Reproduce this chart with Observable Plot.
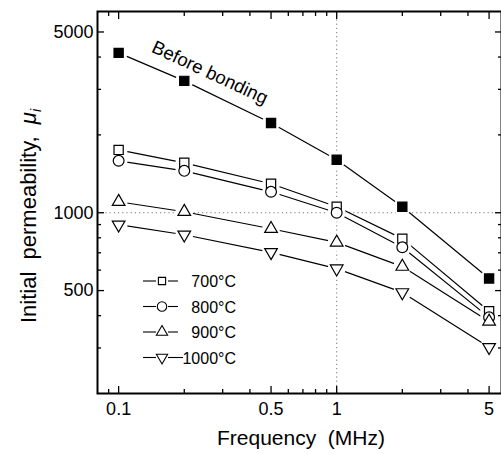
<!DOCTYPE html>
<html><head><meta charset="utf-8">
<script src="https://cdn.jsdelivr.net/npm/d3@7"></script>
<script src="https://cdn.jsdelivr.net/npm/@observablehq/plot@0.6"></script>
<style>body{margin:0;background:#fff;} #chart svg{overflow:visible}</style>
</head><body><div id="chart"></div>
<script>
// ---- data ----
const frequency = [0.1, 0.2, 0.5, 1, 2, 5];            // MHz
const beforeBonding = [4150, 3235, 2223, 1603, 1055, 557];
const t700 = [1750, 1560, 1294, 1055, 794, 416];
const t800 = [1588, 1452, 1205, 1000, 735, 394];
const t900 = [1103, 1009, 867, 768, 619, 380];
const t1000 = [899, 822, 703, 608, 492, 302];
const seriesNames = ["Before bonding", "700°C", "800°C", "900°C", "1000°C"];
const xTickLabels = [0.1, 0.5, 1, 5];
const xMinorTicks = [0.09, 0.2, 0.3, 0.4, 0.6, 0.7, 0.8, 0.9, 2, 3, 4];
const yTickLabels = [500, 1000, 5000];
const yMinorTicks = [300, 400, 600, 700, 800, 900, 2000, 3000, 4000];

// ---- symbols ----
const sqrt3 = Math.sqrt(3);
const triangleDown = {
  draw(context, size) {
    const y = -Math.sqrt(size / (sqrt3 * 3));
    context.moveTo(0, -y * 2);
    context.lineTo(-sqrt3 * y, y);
    context.lineTo(sqrt3 * y, y);
    context.closePath();
  }
};
const seriesValues = [beforeBonding, t700, t800, t900, t1000];
const seriesStyle = [
  {symbol: "square", fill: "black", r: 5.2},
  {symbol: "square", fill: "white", r: 5.2},
  {symbol: "circle", fill: "white", r: 5.4},
  {symbol: "triangle", fill: "white", r: 4.7},
  {symbol: triangleDown, fill: "white", r: 4.7}
];

const rows = [];
seriesNames.forEach((name, k) => frequency.forEach((f, i) => rows.push({series: name, k, f, v: seriesValues[k][i]})));

const font = "'Liberation Sans', Arial, Helvetica, sans-serif";

const marks = [
  Plot.ruleX([1], {stroke: "#777", strokeDasharray: "1.2,3", strokeWidth: 1}),
  Plot.ruleY([1000], {stroke: "#777", strokeDasharray: "1.2,3", strokeWidth: 1}),
  Plot.line(rows, {x: "f", y: "v", z: "series", stroke: "black", strokeWidth: 1.2}),
  Plot.dot(rows, {x: "f", y: "v", r: 9, symbol: "circle", fill: "white", stroke: null}),
  ...seriesNames.map((name, k) => Plot.dot(rows.filter(d => d.k === k), {
    x: "f", y: "v", symbol: () => seriesStyle[k].symbol, r: seriesStyle[k].r,
    fill: seriesStyle[k].fill, stroke: "black", strokeWidth: 1.2
  })),
  Plot.text([seriesNames[0]], {x: 0.262, y: 3480, text: d => d, rotate: 25, fontSize: 18.5, fill: "black"}),
  // tick labels
  Plot.text(xTickLabels, {x: d => d, text: d => String(d), frameAnchor: "bottom", lineAnchor: "top", dy: 9, fontSize: 18, fill: "black"}),
  Plot.text(yTickLabels, {y: d => d, text: d => String(d), frameAnchor: "left", textAnchor: "end", dx: -4, fontSize: 18, fill: "black"}),
  // inward ticks on all four sides
  Plot.axisX(xTickLabels, {anchor: "bottom", tickSize: -7, tickFormat: () => "", label: null, strokeWidth: 1.3}),
  Plot.axisX(xMinorTicks, {anchor: "bottom", tickSize: -4, tickFormat: () => "", label: null, strokeWidth: 1.3}),
  Plot.axisX(xTickLabels, {anchor: "top", tickSize: -7, tickFormat: () => "", label: null, strokeWidth: 1.3}),
  Plot.axisX(xMinorTicks, {anchor: "top", tickSize: -4, tickFormat: () => "", label: null, strokeWidth: 1.3}),
  Plot.axisY(yTickLabels, {anchor: "left", tickSize: -7, tickFormat: () => "", label: null, strokeWidth: 1.3}),
  Plot.axisY(yMinorTicks, {anchor: "left", tickSize: -4, tickFormat: () => "", label: null, strokeWidth: 1.3}),
  Plot.axisY(yTickLabels, {anchor: "right", tickSize: -7, tickFormat: () => "", label: null, strokeWidth: 1.3}),
  Plot.axisY(yMinorTicks, {anchor: "right", tickSize: -4, tickFormat: () => "", label: null, strokeWidth: 1.3}),
  Plot.frame({stroke: "black", strokeWidth: 2})
];

const chart = Plot.plot({
  width: 501, height: 454,
  marginLeft: 97, marginRight: 0, marginTop: 11, marginBottom: 61,
  style: {fontFamily: font, background: "white", color: "black"},
  x: {type: "log", domain: [0.08, 5.7], label: null},
  y: {type: "log", domain: [200, 6000], label: null},
  marks
});
document.getElementById("chart").appendChild(chart);

// ---- titles and legend ----
const svg = d3.select(chart);
svg.append("text")
  .attr("x", 301).attr("y", 445)
  .attr("text-anchor", "middle")
  .attr("font-family", font).attr("font-size", 21).attr("fill", "black")
  .attr("xml:space", "preserve")
  .text("Frequency  (MHz)");

const yt = svg.append("text")
  .attr("transform", "translate(36,216) rotate(-90)")
  .attr("text-anchor", "middle")
  .attr("font-family", font).attr("font-size", 22).attr("fill", "black")
  .attr("xml:space", "preserve");
yt.append("tspan").text("Initial  permeability,  ");
yt.append("tspan").attr("font-style", "italic").text("μ");
yt.append("tspan").attr("font-style", "italic").attr("font-size", 14).attr("dy", 5).text("i");

const legendSymbols = [d3.symbolSquare, d3.symbolCircle, d3.symbolTriangle, triangleDown];
const legendSizes = [52, 70, 55, 55];
const lg = svg.append("g").attr("font-family", font).attr("font-size", 16);
seriesNames.slice(1).forEach((name, i) => {
  const y = 281 + i * 25.5;
  const g = lg.append("g").attr("transform", `translate(0,${y})`);
  g.append("line").attr("x1", 143).attr("x2", 156).attr("y1", 0).attr("y2", 0).attr("stroke", "black").attr("stroke-width", 1.1);
  g.append("line").attr("x1", 168).attr("x2", i === 3 ? 183 : 178).attr("y1", 0).attr("y2", 0).attr("stroke", "black").attr("stroke-width", 1.1);
  g.append("path").attr("transform", "translate(162,0)")
    .attr("d", d3.symbol(legendSymbols[i], legendSizes[i])())
    .attr("fill", "white").attr("stroke", "black").attr("stroke-width", 1.1);
  g.append("text").attr("x", 236).attr("y", 6).attr("text-anchor", "end").attr("fill", "black").text(name);
});
</script>
</body></html>
